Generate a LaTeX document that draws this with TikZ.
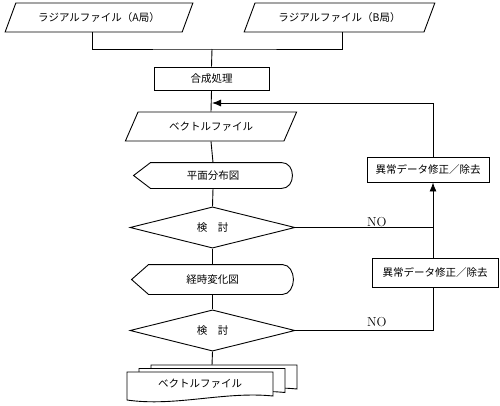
\documentclass[tikz,border=0pt]{standalone}
\usepackage{fontspec}
\newfontfamily\jpfont{Noto Sans CJK JP}
\usetikzlibrary{shapes.geometric,arrows.meta,calc}

\tikzset{
    base/.style={draw, line width=0.9pt, font=\jpfont\fontsize{10.5}{12}\selectfont, inner sep=0pt},
    iobox/.style={base, trapezium, trapezium left angle=52, trapezium right angle=128,
        trapezium stretches=true, minimum height=29pt},
    procbox/.style={base, rectangle},
    checkbox/.style={base, diamond, minimum width=165pt},
    flow/.style={line width=0.9pt, -{Latex[length=9pt,width=7pt]}},
    link/.style={line width=0.9pt}
}

\begin{document}
\begin{tikzpicture}[x=1pt, y=-1pt]
    \useasboundingbox (0,0) rectangle (500,405);

    % Input files
    \node[iobox, minimum width=188pt] (radA) at (99,17.5) {ラジアルファイル（A局）};
    \node[iobox, minimum width=191pt] (radB) at (339.5,17.5) {ラジアルファイル（B局）};

    % Main chain
    \node[procbox, minimum width=115pt, minimum height=23pt] (synth) at (211.5,78.5) {合成処理};
    \node[iobox, minimum width=172pt] (vecA) at (211,126.5) {ベクトルファイル};
    \node[base, draw=none, minimum width=158pt, minimum height=25pt] (plane) at (213,175.5) {平面分布図};
    \node[checkbox, minimum height=41pt] (check1) at (212.5,227.5) {検　討};
    \node[base, draw=none, minimum width=161pt, minimum height=29pt] (trend) at (212.5,279.5) {経時変化図};
    \node[checkbox, minimum height=34pt] (check2) at (212.5,330.5) {検　討};

    % Correction boxes
    \node[procbox, minimum width=122pt, minimum height=25pt] (fixA) at (428,169.5) {異常データ修正／除去};
    \node[procbox, minimum width=126pt, minimum height=29pt] (fixB) at (435,272.5) {異常データ修正／除去};

    % Display shapes
    \foreach \n in {plane,trend}
        \draw[link] (\n.west) -- ([xshift=17pt]\n.north west) -- ([xshift=-11pt]\n.north east)
            .. controls ([xshift=-4pt]\n.north east) and ([yshift=7pt]\n.east) .. (\n.east)
            .. controls ([yshift=-7pt]\n.east) and ([xshift=-4pt]\n.south east) .. ([xshift=-11pt]\n.south east)
            -- ([xshift=17pt]\n.south west) -- cycle;

    % Output document stack
    \foreach \dx/\dy in {24/-7,12/-3.5,0/0}
        \filldraw[link, fill=white, shift={(\dx,\dy)}] (127,372) -- (127,400)
            .. controls (175,407) and (225,391) .. (273,396) -- (273,372) -- cycle;
    \node[font=\jpfont\fontsize{10.5}{12}\selectfont] (vecOut) at (200,384) {ベクトルファイル};
    \coordinate (stackTop) at (212,365);

    % Merge of input files
    \coordinate (merge) at (212,49);
    \draw[link] ([xshift=-7pt]radA.south) |- (merge) -| ([xshift=3pt]radB.south);
    \draw[link] (merge) -- (synth.north);

    % Main flow lines
    \draw[link] (synth.south) -- (vecA.north);
    \draw[link] (vecA.south) -- (plane.north);
    \draw[link] (plane.south) -- (check1.north);
    \draw[link] (check1.south) -- (trend.north);
    \draw[link] (trend.south) -- (check2.north);
    \draw[link] (check2.south) -- (stackTop);

    % Feedback loop
    \coordinate (loop) at (433,103);
    \coordinate (join) at (212,103);
    \draw[link] (check1.east) -- (check1.east -| loop);
    \draw[link] (check2.east) -| (fixB.south -| loop);
    \draw[flow] (fixB.north -| loop) -- (fixA.south -| loop);
    \draw[flow] (fixA.north -| loop) -- (loop) -- (join);

    % Labels
    \node[anchor=base west, inner sep=0pt, font=\fontsize{13}{15}\selectfont] (no1) at (367,226) {NO};
    \node[anchor=base west, inner sep=0pt, font=\fontsize{13}{15}\selectfont] (no2) at (367,326) {NO};

\end{tikzpicture}
\end{document}
